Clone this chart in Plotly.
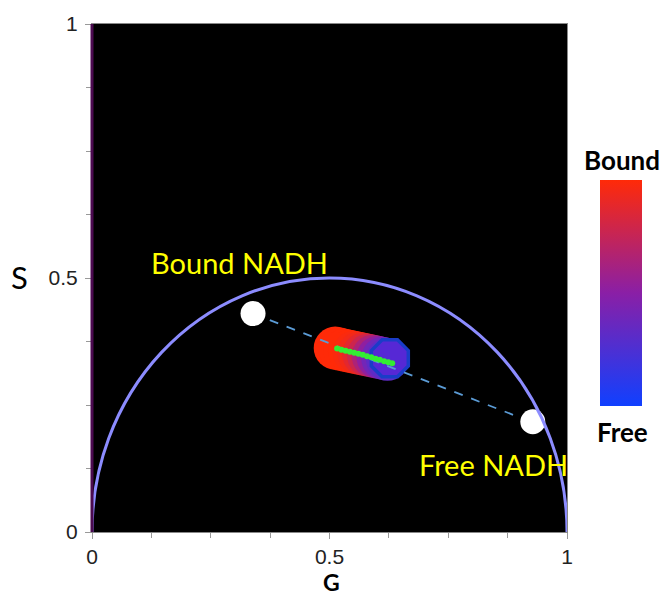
import plotly.graph_objects as go

# ---- data ----
ref_points_g = [0.339, 0.928]          # Bound NADH, Free NADH
ref_points_s = [0.430, 0.217]
line_g = [0.339, 0.968]
line_s = [0.430, 0.201]

blob_g = [0.512, 0.522, 0.532, 0.542, 0.552, 0.562, 0.572, 0.582, 0.592, 0.602, 0.612, 0.622]
blob_s = [0.362, 0.360, 0.358, 0.356, 0.354, 0.352, 0.350, 0.348, 0.346, 0.344, 0.342, 0.340]
blob_c = [1.0, 1.0, 1.0, 1.0, 0.98, 0.95, 0.88, 0.78, 0.65, 0.52, 0.4, 0.32]

green_g = [0.516, 0.525, 0.534, 0.543, 0.552, 0.561, 0.570, 0.579, 0.588, 0.597, 0.606, 0.615, 0.624, 0.632]
green_s = [0.361, 0.359, 0.357, 0.355, 0.353, 0.351, 0.349, 0.346, 0.344, 0.341, 0.339, 0.336, 0.334, 0.332]

center_g = [0.627]
center_s = [0.342]

x_ticks = [0, 0.5, 1]
x_labels = ["0", "0.5", "1"]
y_ticks = [0, 0.5, 1]
y_labels = ["0", "0.5", "1"]

cscale = [[0.0, "#1040ff"], [0.5, "#8a1fa6"], [1.0, "#ff2a08"]]

W, H = 666, 597
L, R, T, B = 92, 99, 20, 65
pw, ph = W - L - R, H - T - B


def px2paper(px, py):
    return (px - L) / pw, (H - B - py) / ph


fig = go.Figure()

fig.add_shape(type="circle", xref="x", yref="y", x0=0, y0=-0.5, x1=1, y1=0.5,
              line=dict(color="#8c8cff", width=3), layer="above")

fig.add_trace(go.Scatter(
    x=blob_g, y=blob_s, mode="markers",
    marker=dict(size=43, color=blob_c, colorscale=cscale, cmin=0, cmax=1,
                line=dict(width=0), opacity=1,
                colorbar=dict(thickness=42, len=0.445, y=0.471, yanchor="middle",
                              x=1.07, xanchor="left", xpad=0, ypad=0,
                              showticklabels=False, ticks="", outlinewidth=0)),
    showlegend=False, hoverinfo="skip"))

fig.add_trace(go.Scatter(
    x=center_g, y=center_s, mode="markers",
    marker=dict(symbol="octagon", size=40, color="rgba(85,40,215,0.85)",
                line=dict(color="#1a3cc8", width=3.5)),
    showlegend=False, hoverinfo="skip"))

fig.add_trace(go.Scatter(
    x=line_g, y=line_s, mode="lines",
    line=dict(color="#5b9bd5", width=1.8, dash="dash"),
    showlegend=False, hoverinfo="skip"))

fig.add_trace(go.Scatter(
    x=green_g, y=green_s, mode="markers",
    marker=dict(size=6, color="#33ee33", line=dict(width=0)),
    showlegend=False, hoverinfo="skip"))

fig.add_trace(go.Scatter(
    x=ref_points_g, y=ref_points_s, mode="markers",
    marker=dict(size=25, color="white", line=dict(width=0)),
    showlegend=False, hoverinfo="skip"))

ann_font = dict(family="Lato, Carlito, sans-serif", size=29, color="#ffff00")
fig.add_annotation(x=0.31, y=0.531, xref="x", yref="y", text="Bound NADH",
                   showarrow=False, font=ann_font, xanchor="center", yanchor="middle")
fig.add_annotation(x=0.845, y=0.133, xref="x", yref="y", text="Free NADH",
                   showarrow=False, font=ann_font, xanchor="center", yanchor="middle")

side_font = dict(family="Lato, sans-serif", size=26, color="black")
for txt, (px, py) in [("<b>Bound</b>", (622, 157)), ("<b>Free</b>", (622, 431))]:
    ax, ay = px2paper(px, py)
    fig.add_annotation(x=ax, y=ay, xref="paper", yref="paper", text=txt,
                       showarrow=False, font=side_font, xanchor="center", yanchor="middle")

ax, ay = px2paper(19, 275)
fig.add_annotation(x=ax, y=ay, xref="paper", yref="paper", text="S", showarrow=False,
                   xanchor="center", yanchor="middle",
                   font=dict(family="Lato, sans-serif", size=31, color="black"))
ax, ay = px2paper(331, 582)
fig.add_annotation(x=ax, y=ay, xref="paper", yref="paper", text="<b>G</b>", showarrow=False,
                   xanchor="center", yanchor="middle",
                   font=dict(family="Lato, sans-serif", size=23, color="black"))

tick_font = dict(family="Liberation Sans, Arial, sans-serif", size=21, color="#222")
fig.update_xaxes(range=[0, 1], tickvals=x_ticks, ticktext=x_labels, ticks="outside",
                 ticklen=6, tickcolor="#999", tickwidth=1, showgrid=False, zeroline=False,
                 showline=True, linecolor="#888", linewidth=1, mirror=True,
                 tickfont=tick_font, ticklabelstandoff=0,
                 minor=dict(dtick=0.125, ticks="outside", ticklen=5, tickcolor="#999",
                            showgrid=False))
fig.update_yaxes(range=[0, 1], tickvals=y_ticks, ticktext=y_labels, ticks="outside",
                 ticklen=6, tickcolor="#999", tickwidth=1, showgrid=False, zeroline=False,
                 showline=True, linecolor="#888", linewidth=1, mirror=True,
                 tickfont=tick_font, ticklabelstandoff=3,
                 minor=dict(dtick=0.125, ticks="outside", ticklen=5, tickcolor="#999",
                            showgrid=False))

fig.add_shape(type="line", xref="paper", yref="paper", x0=0, x1=0, y0=0, y1=1,
              line=dict(color="#4b0a50", width=3), layer="above")

fig.update_layout(width=W, height=H, margin=dict(l=L, r=R, t=T, b=B),
                  plot_bgcolor="black", paper_bgcolor="white")

fig.write_html("out.html")
